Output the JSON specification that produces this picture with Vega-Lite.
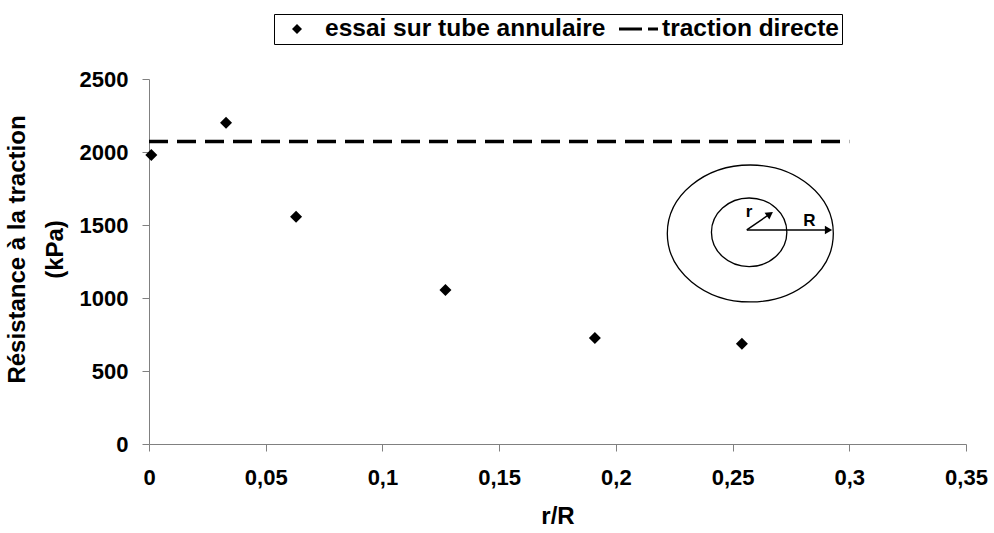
{
  "$schema": "https://vega.github.io/schema/vega-lite/v6.json",
  "width": 817,
  "height": 365,
  "padding": {"left": 5, "top": 13, "right": 5, "bottom": 5},
  "background": "white",
  "config": {
    "view": {"stroke": null},
    "font": "Liberation Sans",
    "axis": {
      "grid": false,
      "domainColor": "#808080",
      "tickColor": "#808080",
      "tickSize": 7,
      "labelFont": "Liberation Sans",
      "labelFontSize": 22,
      "labelFontWeight": "bold",
      "labelColor": "black",
      "titleFont": "Liberation Sans",
      "titleFontSize": 24,
      "titleFontWeight": "bold",
      "titleColor": "black"
    }
  },
  "datasets": {
    "essai": [
      {"rR": 0.001, "resistance": 1980, "serie": "essai sur tube annulaire"},
      {"rR": 0.033, "resistance": 2200, "serie": "essai sur tube annulaire"},
      {"rR": 0.063, "resistance": 1557, "serie": "essai sur tube annulaire"},
      {"rR": 0.127, "resistance": 1055, "serie": "essai sur tube annulaire"},
      {"rR": 0.191, "resistance": 726, "serie": "essai sur tube annulaire"},
      {"rR": 0.254, "resistance": 686, "serie": "essai sur tube annulaire"}
    ],
    "traction": [
      {"rR": 0, "resistance": 2072},
      {"rR": 0.3, "resistance": 2072}
    ],
    "exterieur": [{"rR": 0.2576, "resistance": 1442}],
    "interieur": [{"rR": 0.2571, "resistance": 1450}],
    "fleches": [
      {"rR": 0.2561, "resistance": 1466, "rR2": 0.2915, "resistance2": 1466},
      {"rR": 0.2561, "resistance": 1466, "rR2": 0.2662, "resistance2": 1578}
    ],
    "pointeR": [{"rR": 0.2911, "resistance": 1466}],
    "pointer": [{"rR": 0.2660, "resistance": 1575}],
    "etiquettes": [
      {"rR": 0.2571, "resistance": 1589, "texte": "r"},
      {"rR": 0.2829, "resistance": 1529, "texte": "R"}
    ]
  },
  "layer": [
    {
      "data": {"name": "traction"},
      "mark": {"type": "line", "color": "black", "strokeWidth": 3.5, "strokeDash": [19, 9], "strokeCap": "butt"},
      "encoding": {
        "x": {
          "field": "rR", "type": "quantitative",
          "scale": {"domain": [0, 0.35], "nice": false, "zero": true},
          "axis": {
            "title": "r/R",
            "values": [0, 0.05, 0.1, 0.15, 0.2, 0.25, 0.3, 0.35],
            "labelExpr": "replace(toString(datum.value), '.', ',')",
            "labelFlush": false,
            "labelPadding": 16,
            "titlePadding": 16
          }
        },
        "y": {
          "field": "resistance", "type": "quantitative",
          "scale": {"domain": [0, 2500], "nice": false},
          "axis": {
            "title": ["Résistance à la traction", "(kPa)"],
            "values": [0, 500, 1000, 1500, 2000, 2500],
            "format": "d",
            "labelPadding": 14,
            "titlePadding": 12,
            "titleLineHeight": 38,
            "titleY": 170
          }
        }
      }
    },
    {
      "data": {"name": "essai"},
      "mark": {"type": "point", "filled": true, "color": "black", "opacity": 1, "size": 2304},
      "encoding": {
        "x": {"field": "rR", "type": "quantitative"},
        "y": {"field": "resistance", "type": "quantitative"},
        "shape": {
          "field": "serie", "type": "nominal",
          "scale": {
            "domain": ["essai sur tube annulaire", "traction directe"],
            "range": ["M-0.25,0L0,-0.25L0.25,0L0,0.25Z", "M-0.75,-0.075H0.4V0.075H-0.75Z M0.7,-0.075H1.2V0.075H0.7Z"]
          },
          "legend": {
            "orient": "none",
            "legendX": 125,
            "legendY": -65,
            "direction": "horizontal",
            "title": null,
            "strokeColor": "black",
            "padding": 3,
            "clipHeight": 24,
            "labelFont": "Liberation Sans",
            "labelFontSize": 24.5,
            "labelFontWeight": "bold",
            "labelColor": "black",
            "labelLimit": 0,
            "labelOffset": 8,
            "symbolSize": 1600,
            "symbolStrokeWidth": 0,
            "symbolFillColor": "black",
            "symbolOpacity": 1,
            "columnPadding": 8
          }
        }
      }
    },
    {
      "data": {"name": "exterieur"},
      "mark": {
        "type": "point", "filled": false, "stroke": "black", "strokeWidth": 1.3, "opacity": 1, "size": 27556,
        "shape": "M-1,0C-1,-0.4556,-0.5523,-0.825,0,-0.825C0.5523,-0.825,1,-0.4556,1,0C1,0.4556,0.5523,0.825,0,0.825C-0.5523,0.825,-1,0.4556,-1,0Z"
      },
      "encoding": {
        "x": {"field": "rR", "type": "quantitative"},
        "y": {"field": "resistance", "type": "quantitative"}
      }
    },
    {
      "data": {"name": "interieur"},
      "mark": {
        "type": "point", "filled": false, "stroke": "black", "strokeWidth": 1.3, "opacity": 1, "size": 5685,
        "shape": "M-1,0C-1,-0.5026,-0.5523,-0.91,0,-0.91C0.5523,-0.91,1,-0.5026,1,0C1,0.5026,0.5523,0.91,0,0.91C-0.5523,0.91,-1,0.5026,-1,0Z"
      },
      "encoding": {
        "x": {"field": "rR", "type": "quantitative"},
        "y": {"field": "resistance", "type": "quantitative"}
      }
    },
    {
      "data": {"name": "fleches"},
      "mark": {"type": "rule", "color": "black", "strokeWidth": 1.5},
      "encoding": {
        "x": {"field": "rR", "type": "quantitative"},
        "y": {"field": "resistance", "type": "quantitative"},
        "x2": {"field": "rR2"},
        "y2": {"field": "resistance2"}
      }
    },
    {
      "data": {"name": "pointeR"},
      "mark": {"type": "point", "shape": "triangle-right", "filled": true, "color": "black", "opacity": 1, "size": 70},
      "encoding": {
        "x": {"field": "rR", "type": "quantitative"},
        "y": {"field": "resistance", "type": "quantitative"}
      }
    },
    {
      "data": {"name": "pointer"},
      "mark": {"type": "point", "shape": "triangle-right", "filled": true, "color": "black", "opacity": 1, "size": 70, "angle": -35},
      "encoding": {
        "x": {"field": "rR", "type": "quantitative"},
        "y": {"field": "resistance", "type": "quantitative"}
      }
    },
    {
      "data": {"name": "etiquettes"},
      "mark": {"type": "text", "font": "Liberation Sans", "fontSize": 17, "fontWeight": "bold", "color": "black", "align": "center", "baseline": "middle"},
      "encoding": {
        "x": {"field": "rR", "type": "quantitative"},
        "y": {"field": "resistance", "type": "quantitative"},
        "text": {"field": "texte"}
      }
    }
  ]
}
